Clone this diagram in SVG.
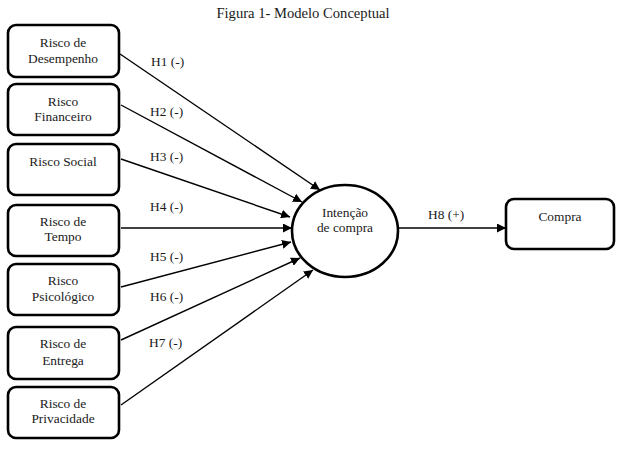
<svg xmlns="http://www.w3.org/2000/svg" width="623" height="452" viewBox="0 0 623 452">
<style>
text{font-family:"Liberation Serif","Times New Roman",serif;font-size:13.4px;fill:#1a1a1a}
.t{text-anchor:middle}
.box{fill:#fff;stroke:#000;stroke-width:2.6}
.c{stroke:#000;stroke-width:1.4;fill:none;marker-end:url(#ah)}
</style>
<defs>
<marker id="ah" viewBox="0 0 10 10" refX="10" refY="5" markerWidth="9" markerHeight="9" markerUnits="userSpaceOnUse" orient="auto">
<path d="M0,0 L10,5 L0,10 z" fill="#000"/>
</marker>
</defs>
<rect width="623" height="452" fill="#fff"/>
<text x="303" y="18" class="t" style="font-size:14.6px">Figura 1- Modelo Conceptual</text>
<g id="connectors">
<line class="c" x1="120" y1="54" x2="320" y2="190"/>
<line class="c" x1="121" y1="105" x2="302" y2="202"/>
<line class="c" x1="121" y1="159" x2="290" y2="217"/>
<line class="c" x1="121" y1="228" x2="292" y2="228"/>
<line class="c" x1="121" y1="287" x2="291" y2="242"/>
<line class="c" x1="121" y1="340" x2="300" y2="258"/>
<line class="c" x1="121" y1="405" x2="313" y2="270"/>
<line class="c" x1="398" y1="228" x2="506" y2="228"/>
<text x="151" y="66">H1 (-)</text>
<text x="150" y="116">H2 (-)</text>
<text x="150" y="161">H3 (-)</text>
<text x="150" y="211">H4 (-)</text>
<text x="150" y="261">H5 (-)</text>
<text x="150" y="301">H6 (-)</text>
<text x="149" y="347">H7 (-)</text>
<text x="428" y="219">H8 (+)</text>
</g>
<g id="n1"><rect class="box" x="8" y="25" width="111" height="52" rx="8"/><text class="t" x="63" y="47">Risco de</text><text class="t" x="63" y="63">Desempenho</text></g>
<g id="n2"><rect class="box" x="8" y="84" width="111" height="51" rx="8"/><text class="t" x="63" y="106">Risco</text><text class="t" x="63" y="121">Financeiro</text></g>
<g id="n3"><rect class="box" x="8" y="144" width="111" height="51" rx="8"/><text class="t" x="63" y="166">Risco Social</text></g>
<g id="n4"><rect class="box" x="8" y="205" width="111" height="51" rx="8"/><text class="t" x="63" y="226">Risco de</text><text class="t" x="63" y="241">Tempo</text></g>
<g id="n5"><rect class="box" x="8" y="264" width="111" height="51" rx="8"/><text class="t" x="63" y="285">Risco</text><text class="t" x="63" y="301">Psicológico</text></g>
<g id="n6"><rect class="box" x="8" y="327" width="111" height="52" rx="8"/><text class="t" x="63" y="348">Risco de</text><text class="t" x="63" y="365">Entrega</text></g>
<g id="n7"><rect class="box" x="8" y="387" width="111" height="51" rx="8"/><text class="t" x="63" y="408">Risco de</text><text class="t" x="63" y="423">Privacidade</text></g>
<g id="n8"><ellipse class="box" cx="345" cy="231" rx="53" ry="46"/><text class="t" x="345" y="217">Intenção</text><text class="t" x="345" y="232">de compra</text></g>
<g id="n9"><rect class="box" x="506" y="199" width="108" height="50" rx="8"/><text class="t" x="560" y="221">Compra</text></g>
</svg>
